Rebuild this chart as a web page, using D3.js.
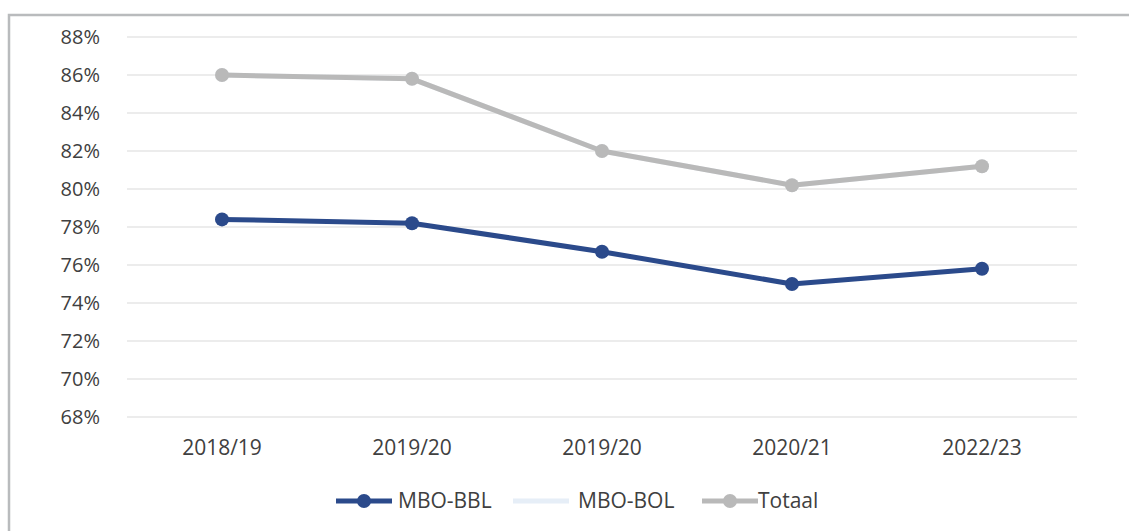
<!DOCTYPE html>
<html>
<head>
<meta charset="utf-8">
<script src="https://cdn.jsdelivr.net/npm/d3@7"></script>
<style>
  body { margin: 0; background: #fff; }
  text { font-family: "Open Sans", "Liberation Sans", sans-serif; fill: #404040; }
</style>
</head>
<body>
<div id="chart"></div>
<script>
var categories = ["2018/19", "2019/20", "2019/20", "2020/21", "2022/23"];
var bbl = [78.4, 78.2, 76.7, 75.0, 75.8];
var bol = [86.0, 85.8, 82.0, 80.2, 81.2];
var totaal = [86.0, 85.8, 82.0, 80.2, 81.2];
var yTicks = [68, 70, 72, 74, 76, 78, 80, 82, 84, 86, 88];

var width = 1129, height = 531;
var plotLeft = 127, plotRight = 1077, plotTop = 37, plotBottom = 417;

var svg = d3.select("#chart").append("svg")
    .attr("width", width)
    .attr("height", height);

// frame
svg.append("path")
    .attr("d", "M9,531 V15 H1129")
    .attr("fill", "none")
    .attr("stroke", "#b9bbbd")
    .attr("stroke-width", 2.5);

var x = d3.scaleBand()
    .domain(d3.range(categories.length))
    .range([plotLeft, plotRight]);

var y = d3.scaleLinear()
    .domain([68, 88])
    .range([plotBottom, plotTop]);

// gridlines
svg.append("g")
    .selectAll("line")
    .data(yTicks)
    .enter().append("line")
    .attr("x1", plotLeft).attr("x2", plotRight)
    .attr("y1", d => y(d)).attr("y2", d => y(d))
    .attr("stroke", "#d9d9d9")
    .attr("stroke-width", 1.2);

var yAxis = svg.append("g")
    .attr("transform", "translate(" + (plotLeft - 24) + ",0)")
    .call(d3.axisLeft(y).tickValues(yTicks).tickSize(0).tickFormat(d => d + "%"));
yAxis.select(".domain").remove();
yAxis.selectAll("text").style("font-size", "20px").attr("fill", "#404040");

var xAxis = svg.append("g")
    .attr("transform", "translate(0," + (plotBottom + 20) + ")")
    .call(d3.axisBottom(x).tickSize(0).tickFormat(i => categories[i]));
xAxis.select(".domain").remove();
xAxis.selectAll("text").style("font-size", "21px").attr("fill", "#404040");

var series = [
  { name: "MBO-BOL", values: bol, color: "#eef3f9" },
  { name: "Totaal", values: totaal, color: "#b9b9b9" },
  { name: "MBO-BBL", values: bbl, color: "#2b4a8b" }
];

var line = d3.line()
    .x((d, i) => x(i) + x.bandwidth() / 2)
    .y(d => y(d));

series.forEach(function(s) {
  svg.append("path")
      .datum(s.values)
      .attr("d", line)
      .attr("fill", "none")
      .attr("stroke", s.color)
      .attr("stroke-width", 5)
      .attr("stroke-linejoin", "round");
  svg.append("g")
      .selectAll("circle")
      .data(s.values)
      .enter().append("circle")
      .attr("cx", (d, i) => x(i) + x.bandwidth() / 2)
      .attr("cy", d => y(d))
      .attr("r", 7)
      .attr("fill", s.color);
});

// legend
var legend = [
  { name: "MBO-BBL", color: "#2b4a8b", x: 336, tx: 62 },
  { name: "MBO-BOL", color: "#e6eef7", x: 513, tx: 65 },
  { name: "Totaal", color: "#b9b9b9", x: 702, tx: 56 }
];
var lg = svg.append("g").selectAll("g")
    .data(legend)
    .enter().append("g")
    .attr("transform", d => "translate(" + d.x + ",501)");
lg.append("line")
    .attr("x1", 0).attr("x2", 56)
    .attr("stroke", d => d.color)
    .attr("stroke-width", 5);
lg.filter(d => d.name != "MBO-BOL").append("circle")
    .attr("cx", 28).attr("r", 7)
    .attr("fill", d => d.color);
lg.append("text")
    .attr("x", d => d.tx)
    .attr("dy", "0.35em")
    .style("font-size", "21px")
    .text(d => d.name);
</script>
</body>
</html>
